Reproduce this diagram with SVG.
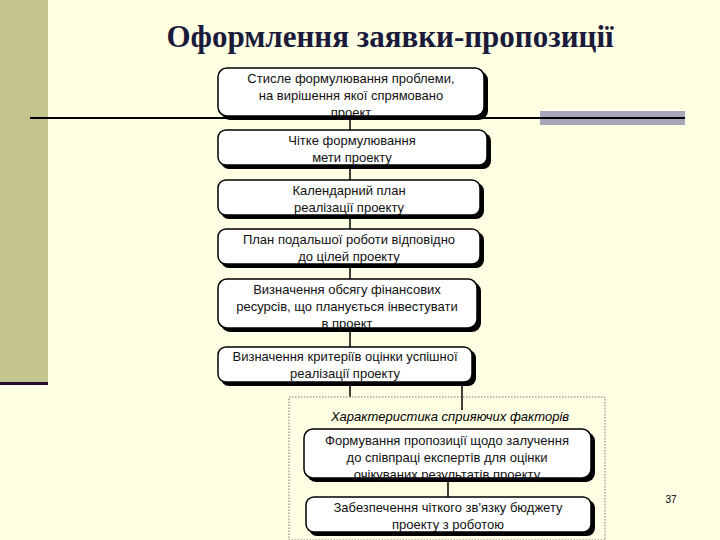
<svg xmlns="http://www.w3.org/2000/svg" width="720" height="540" viewBox="0 0 720 540">
<style>
.b{fill:#fff;stroke:#000;stroke-width:1.5}
.s{fill:#000}
.t{font-family:"Liberation Sans",Arial,sans-serif;font-size:13px;text-anchor:middle;fill:#111}
.c{stroke:#000;stroke-width:1.5;fill:none}
.h{font-family:"Liberation Serif","Times New Roman",serif;font-size:31px;font-weight:bold;text-anchor:middle;fill:#1A1A3A}
</style>
<rect width="720" height="540" fill="#FFFFE3"/>
<rect x="0" y="0" width="48" height="382" fill="#C4C48E"/>
<rect x="0" y="382" width="48" height="3" fill="#2A0A2A"/>
<rect x="540" y="111" width="145" height="14" fill="#A6A6B8"/>
<line x1="30" y1="118" x2="685" y2="118" stroke="#000" stroke-width="2"/>
<text class="h" x="390" y="47">Оформлення заявки-пропозиції</text>
<g id="connectors">
<line class="c" x1="350" y1="117" x2="350" y2="397"/>
<line class="c" x1="462" y1="384" x2="462" y2="410"/>
<line class="c" x1="448" y1="480" x2="448" y2="497"/>
</g>
<rect x="289" y="397" width="316" height="143" fill="none" stroke="#777" stroke-dasharray="1.5,1.5"/>
<text x="450" y="421" font-family="Liberation Sans,Arial,sans-serif" font-size="13" font-style="italic" text-anchor="middle">Характеристика сприяючих факторів</text>
<g id="n1"><rect class="s" x="221" y="71" width="267" height="49" rx="9"/><rect class="b" x="218" y="68" width="266" height="48" rx="9"/><text class="t" x="351" y="83">Стисле  формулювання проблеми,</text><text class="t" x="351" y="100">на вирішення якої спрямовано</text><text class="t" x="351" y="117">проект</text></g>
<g id="n2"><rect class="s" x="221" y="133" width="270" height="36" rx="8"/><rect class="b" x="218" y="130" width="269" height="35" rx="8"/><text class="t" x="352" y="145">Чітке формулювання</text><text class="t" x="352" y="162">мети проекту</text></g>
<g id="n3"><rect class="s" x="221" y="183" width="263" height="36" rx="8"/><rect class="b" x="218" y="180" width="262" height="35" rx="8"/><text class="t" x="349" y="195">Календарний план</text><text class="t" x="349" y="212">реалізації проекту</text></g>
<g id="n4"><rect class="s" x="221" y="232" width="263" height="36" rx="8"/><rect class="b" x="218" y="229" width="262" height="35" rx="8"/><text class="t" x="349" y="244">План подальшої роботи відповідно</text><text class="t" x="349" y="261">до цілей проекту</text></g>
<g id="n5"><rect class="s" x="221" y="282" width="260" height="50" rx="9"/><rect class="b" x="218" y="279" width="259" height="49" rx="9"/><text class="t" x="347" y="294">Визначення обсягу фінансових</text><text class="t" x="347" y="311">ресурсів, що планується інвестувати</text><text class="t" x="347" y="328">в проект</text></g>
<g id="n6"><rect class="s" x="221" y="350" width="255" height="36" rx="8"/><rect class="b" x="218" y="347" width="254" height="35" rx="8"/><text class="t" x="345" y="361">Визначення критеріїв оцінки успішної</text><text class="t" x="345" y="378">реалізації проекту</text></g>
<g id="n7"><rect class="s" x="307" y="432" width="288" height="50" rx="9"/><rect class="b" x="304" y="429" width="287" height="49" rx="9"/><text class="t" x="447" y="445">Формування пропозиції щодо залучення</text><text class="t" x="447" y="462">до співпраці експертів для оцінки</text><text class="t" x="447" y="479">очікуваних результатів проекту</text></g>
<g id="n8"><rect class="s" x="309" y="500" width="286" height="36" rx="8"/><rect class="b" x="306" y="497" width="285" height="35" rx="8"/><text class="t" x="448" y="512">Забезпечення чіткого зв'язку бюджету</text><text class="t" x="448" y="529">проекту з роботою</text></g>
<text x="671" y="503" font-family="Liberation Sans,Arial,sans-serif" font-size="10" text-anchor="middle">37</text>
</svg>
